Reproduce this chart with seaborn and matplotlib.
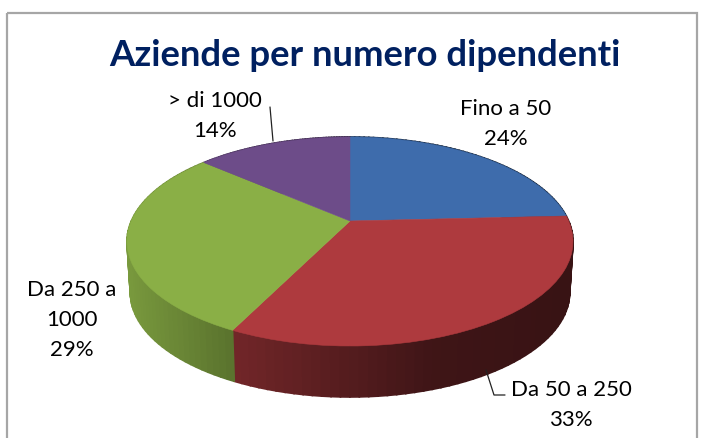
import numpy as np
import matplotlib
matplotlib.use("Agg")
import matplotlib.pyplot as plt
from matplotlib.patches import Rectangle
from matplotlib.transforms import Transform
import seaborn as sns

categories = ["Fino a 50", "Da 50 a 250", "Da 250 a\n1000", "> di 1000"]
# i bordi delle fette dicono un po' piu' delle etichette arrotondate
shares = [24.2, 33.1, 29.1, 13.6]
slice_colors = ["#3E6CAC", "#AE3A3E", "#8AAF46", "#6D4C89"]
title_text = "Aziende per numero dipendenti"

# centro della torta e parametri della vista 3D (in pixel)
CX, CY = 350, 221
BX, AY, K = 218.7, 100.5, 0.196
DEPTH, WALL_SCALE = 51, 0.985


class PieView(Transform):
    # porta il cerchio unitario di ax.pie sul piano inclinato, con prospettiva
    input_dims = 2
    output_dims = 2
    is_separable = False

    def transform_non_affine(self, values):
        values = np.asarray(values)
        x, y = values[:, 0], values[:, 1]
        w = 1 + K * y
        return np.column_stack([CX + BX * x / w, CY - AY * y / w])


def draw_walls(ax, view, colors):
    # parete laterale: tante strisce sottili, scure verso destra
    edges = np.cumsum([0] + shares) / sum(shares) * 2 * np.pi
    for i, color in enumerate(colors):
        steps = np.linspace(edges[i], edges[i + 1], 60)
        rim = view.transform_non_affine(np.column_stack([np.sin(steps), np.cos(steps)]))
        low = np.column_stack([CX + (rim[:, 0] - CX) * WALL_SCALE, rim[:, 1] + DEPTH])
        # da sinistra a destra, cosi' ogni striscia copre il bordo della precedente
        order = np.argsort(rim[:-1, 0])
        for j in order:
            shade = np.interp(rim[j, 0], [127, 234, 440, 573], [0.88, 0.66, 0.36, 0.32])
            ax.fill(
                [rim[j, 0], rim[j + 1, 0], low[j + 1, 0], low[j, 0]],
                [rim[j, 1], rim[j + 1, 1], low[j + 1, 1], low[j, 1]],
                color=tuple(c * shade for c in color),
                lw=1.2,
                zorder=1,
            )


def main():
    sns.set_theme(style="white")
    plt.rcParams["font.family"] = ["Lato", "DejaVu Sans"]
    colors = sns.color_palette(slice_colors)

    fig = plt.figure(figsize=(7.10, 4.38), dpi=100)
    ax = fig.add_axes([0, 0, 1, 1])

    view = PieView()
    wedges, _ = ax.pie(shares, colors=colors, startangle=90, counterclock=False)
    for wedge in wedges:
        wedge.set_transform(view + ax.transData)
        wedge.set_clip_on(False)
        wedge.set_zorder(2)
        wedge.set_edgecolor(wedge.get_facecolor())
        wedge.set_linewidth(0.4)
    draw_walls(ax, view, colors)

    ax.set_aspect("auto")
    ax.set_xlim(0, 710)
    ax.set_ylim(438, 0)
    ax.axis("off")

    # cornice del grafico, il bordo inferiore esce dall'immagine
    ax.add_patch(Rectangle((7, 13), 690, 460, fill=False, ec="#A6A6A6", lw=1.6, zorder=0))

    ax.text(365, 55, title_text, ha="center", va="center", fontsize=26.3,
            fontweight="bold", color="#002060")

    labels = [f"{c}\n{round(s)}%" for c, s in zip(categories, shares)]
    spots = [(506, 124), (571, 405), (72, 320), (215, 116)]
    for label, (x, y) in zip(labels, spots):
        ax.text(x, y, label, ha="center", va="center", fontsize=16, color="black",
                linespacing=1.65)

    # linee guida delle etichette
    ax.plot([270, 273], [107, 141], color="#222222", lw=0.9, zorder=3)
    ax.plot([486, 494, 505], [370, 395, 395], color="#222222", lw=0.9, zorder=3)

    fig.savefig("out.png", dpi=100)


if __name__ == "__main__":
    main()
